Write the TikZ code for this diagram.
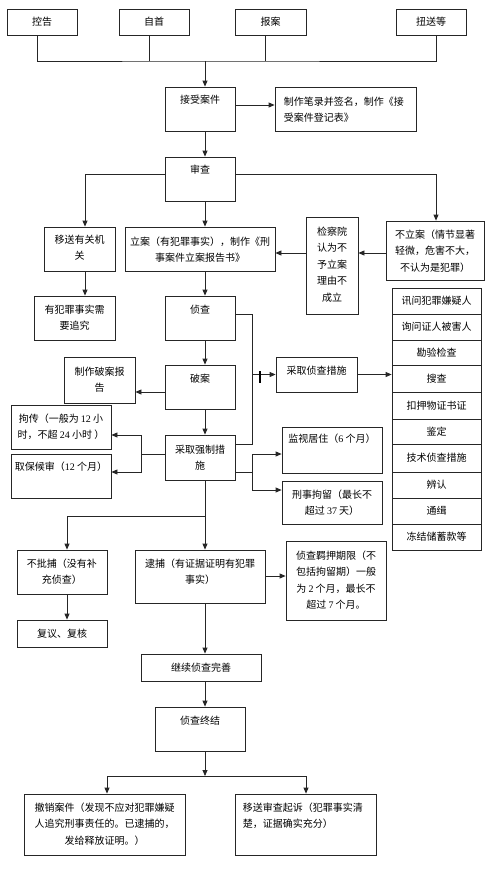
\documentclass[tikz,border=0pt]{standalone}
\usepackage{fontspec}
\setmainfont{Noto Sans CJK SC}
\newfontfamily\numfont{Liberation Serif}
\usetikzlibrary{arrows.meta}
\newcommand\fs{\fontsize{10}{16.5}\selectfont}
\newcommand\dg[1]{{\numfont #1}}
\newcommand\bx[6]{\node[box,minimum width={#4-#2},minimum height={#5-#3}] (#1) at ({(#2+#4)/2},{(#3+#5)/2}) {#6};}
\newcommand\tx[3]{\node[txt,align=center,anchor=north] (#1t) at ([yshift=-#2pt]#1.north) {#3};}
\newcommand\txl[4]{\node[txt,align=left,anchor=north west] (#1t) at ([xshift=#2pt,yshift=-#3pt]#1.north west) {#4};}
\begin{document}
\begin{tikzpicture}[x=1pt,y=-1pt,
  box/.style={draw=black!85,line width=0.8pt,inner sep=0pt,font=\fs},
  txt/.style={inner sep=0pt,font=\fs},
  ln/.style={draw=black!85,line width=0.8pt},
  arr/.style={ln,-{Triangle[length=6pt,width=5pt]}}]
\useasboundingbox (0,0) rectangle (500,870);
% boxes
\bx{kg}{7}{9}{77}{35}{控告}
\bx{zs}{119}{9}{189}{35}{自首}
\bx{baa}{235}{9}{306}{35}{报案}
\bx{ns}{396}{9}{466}{35}{扭送等}
\bx{js}{165}{87}{235}{131}{}
\bx{bl}{275}{87}{416}{131}{}
\bx{sc}{165}{157}{235}{201}{}
\bx{ys}{44}{227}{115}{271}{}
\bx{la}{125}{227}{275}{271}{}
\bx{jcy}{306}{217}{358}{314}{}
\bx{bla}{386}{221}{484}{280}{}
\bx{yf}{34}{296}{115}{340}{}
\bx{zc}{165}{296}{235}{340}{}
\bx{bg}{64}{357}{135}{403}{}
\bx{pa}{165}{365}{235}{409}{}
\bx{cs}{276}{357}{357}{392}{}
\bx{jc}{11}{405}{111}{449}{}
\bx{qb}{11}{454}{111}{498}{}
\bx{qz}{165}{435}{235}{480}{}
\bx{jsj}{282}{427}{382}{473}{}
\bx{xj}{282}{481}{382}{524}{}
\bx{bpb}{17}{550}{107}{594}{}
\bx{fy}{17}{620}{107}{647}{复议、复核}
\bx{db}{135}{550}{265}{603}{}
\bx{jy}{286}{541}{386}{620}{}
\bx{jx}{141}{654}{261}{681}{继续侦查完善}
\bx{zj}{155}{707}{245}{751}{}
\bx{cxa}{24}{794}{185}{855}{}
\bx{ysb}{235}{794}{376}{855}{}
% list of measures
\bx{m1}{392}{288}{481}{314}{讯问犯罪嫌疑人}
\bx{m2}{392}{314}{481}{340}{询问证人被害人}
\bx{m3}{392}{340}{481}{365}{勘验检查}
\bx{m4}{392}{365}{481}{392}{搜查}
\bx{m5}{392}{392}{481}{419}{扣押物证书证}
\bx{m6}{392}{419}{481}{444}{鉴定}
\bx{m7}{392}{444}{481}{472}{技术侦查措施}
\bx{m8}{392}{472}{481}{498}{辨认}
\bx{m9}{392}{498}{481}{524}{通缉}
\bx{m10}{392}{524}{481}{550}{冻结储蓄款等}
% texts
\tx{js}{8}{接受案件}
\txl{bl}{9}{10}{制作笔录并签名，制作《接\\受案件登记表》}
\tx{sc}{8}{审查}
\tx{ys}{8}{移送有关机\\关}
\tx{la}{10}{立案（有犯罪事实），制作《刑\\事案件立案报告书》}
\tx{jcy}{10}{检察院\\认为不\\予立案\\理由不\\成立}
\tx{bla}{9}{不立案（情节显著\\轻微，危害不大，\\不认为是犯罪）}
\tx{yf}{9}{有犯罪事实需\\要追究}
\tx{zc}{9}{侦查}
\tx{bg}{10}{制作破案报\\告}
\tx{pa}{9}{破案}
\tx{cs}{9}{采取侦查措施}
\tx{jc}{9}{拘传（一般为 \dg{12} 小\\时，不超 \dg{24} 小时 ）}
\tx{qb}{8}{取保候审（\dg{12} 个月）}
\tx{qz}{10}{采取强制措\\施}
\tx{jsj}{7}{监视居住（\dg{6} 个月）}
\tx{xj}{9}{刑事拘留（最长不\\超过 \dg{37} 天）}
\tx{bpb}{9}{不批捕（没有补\\充侦查）}
\tx{db}{9}{逮捕（有证据证明有犯罪\\事实）}
\tx{jy}{10}{侦查羁押期限（不\\包括拘留期）一般\\为 \dg{2} 个月，最长不\\超过 \dg{7} 个月。}
\tx{zj}{9}{侦查终结}
\tx{cxa}{9}{撤销案件（发现不应对犯罪嫌疑\\人追究刑事责任的。已逮捕的，\\发给释放证明。）}
\txl{ysb}{8}{9}{移送审查起诉（犯罪事实清\\楚，证据确实充分）}
% helper coordinates
\coordinate (xc) at (205,0);
\coordinate (x85) at (85,0);
\coordinate (x436) at (436,0);
\coordinate (x252) at (252,0);
\coordinate (x141) at (141,0);
\coordinate (x67) at (67,0);
\coordinate (x107) at (107,0);
\coordinate (x306) at (306,0);
\coordinate (j0) at (205,61);
\coordinate (y105) at (0,105);
\coordinate (y174) at (0,174);
\coordinate (y253) at (0,253);
\coordinate (y314) at (0,314);
\coordinate (y392) at (0,392);
\coordinate (y444) at (0,444);
\coordinate (y435) at (0,435);
\coordinate (y454) at (0,454);
\coordinate (y472) at (0,472);
\coordinate (y490) at (0,490);
\coordinate (y516) at (0,516);
\coordinate (y576) at (0,576);
\coordinate (y776) at (0,776);
\coordinate (tk1) at (260,371);
\coordinate (tk2) at (260,383);
% connectors
\draw[ln] ([xshift=-5pt]kg.south) |- (j0) -| ([xshift=5pt]ns.south);
\draw[ln] ([xshift=-5pt]zs.south) -- ++(0,26);
\draw[ln] ([xshift=-5pt]baa.south) -- ++(0,26);
\draw[arr] (j0) -- (js.north -| j0);
\draw[arr] (js.east |- y105) -- (bl.west |- y105);
\draw[arr] (js.south -| xc) -- (sc.north -| xc);
\draw[arr] (sc.west |- y174) -| (ys.north -| x85);
\draw[arr] (sc.east |- y174) -| (bla.north -| x436);
\draw[arr] (sc.south -| xc) -- (la.north -| xc);
\draw[arr] (bla.west |- y253) -- (jcy.east |- y253);
\draw[arr] (jcy.west |- y253) -- (la.east |- y253);
\draw[arr] (ys.south -| x85) -- (yf.north -| x85);
\draw[arr] (la.south -| xc) -- (zc.north -| xc);
\draw[ln] (zc.east |- y314) -| (x252 |- y444) -- (qz.east |- y444);
\draw[arr] (x252 |- cs.west) -- (cs.west);
\draw[line width=1.3pt] (tk1) -- (tk2);
\draw[arr] (cs.east) -- (cs.east -| m4.west);
\draw[arr] (zc.south -| xc) -- (pa.north -| xc);
\draw[arr] (pa.west |- y392) -- (bg.east |- y392);
\draw[arr] (pa.south -| xc) -- (qz.north -| xc);
\draw[ln] (qz.west |- y454) -- (x141 |- y454);
\draw[arr] (x141 |- y454) |- (jc.east |- y435);
\draw[arr] (x141 |- y454) |- (qb.east |- y472);
\draw[ln] (qz.east |- y472) -- (x252 |- y472);
\draw[arr] (x252 |- y472) |- (jsj.west |- y454);
\draw[arr] (x252 |- y472) |- (xj.west |- y490);
\draw[ln] (qz.south -| xc) -- (xc |- y516);
\draw[arr] (xc |- y516) -| (bpb.north -| x67);
\draw[arr] (qz.south -| xc) -- (db.north -| xc);
\draw[arr] (bpb.south -| x67) -- (fy.north -| x67);
\draw[arr] (db.east |- y576) -- (jy.west |- y576);
\draw[arr] (db.south -| xc) -- (jx.north -| xc);
\draw[arr] (jx.south -| xc) -- (zj.north -| xc);
\draw[arr] (zj.south -| xc) -- (xc |- y776);
\draw[arr] (xc |- y776) -| (cxa.north -| x107);
\draw[arr] (xc |- y776) -| (ysb.north -| x306);
\end{tikzpicture}
\end{document}
